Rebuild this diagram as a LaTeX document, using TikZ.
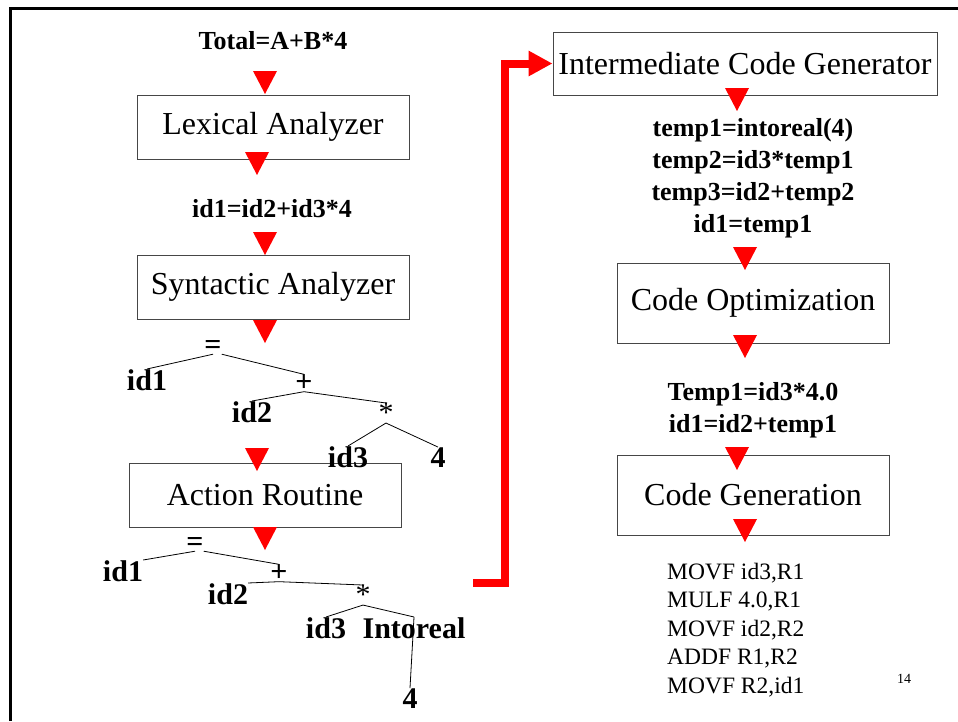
\documentclass[tikz,border=0pt]{standalone}
\usepackage{fontspec}
\setmainfont{Liberation Serif}
\definecolor{arrowRed}{RGB}{255, 0, 0}
\definecolor{boxGray}{RGB}{70, 70, 70}
\usepackage{tikz}
\usetikzlibrary{arrows.meta, calc}

\begin{document}
\begin{tikzpicture}[
    x=1pt, y=-1pt,
    stagebox/.style={rectangle, draw=boxGray, line width=1pt, minimum width=272pt,
                     minimum height=64pt, inner sep=0pt,
                     font=\fontsize{32}{38}\selectfont},
    codetext/.style={inner sep=0pt, anchor=base, align=center,
                     font=\fontsize{26}{32}\selectfont\bfseries},
    asmtext/.style={inner sep=0pt, anchor=base west, align=left,
                    font=\fontsize{23.5}{28.5}\selectfont},
    leaf/.style={inner sep=0pt, anchor=base, font=\fontsize{30}{36}\selectfont\bfseries},
    oper/.style={inner sep=0pt, font=\fontsize{30}{36}\selectfont\bfseries},
    starop/.style={inner sep=0pt, anchor=north, font=\fontsize{30}{36}\selectfont},
    treeline/.style={line width=0.8pt},
    redarrow/.style={line width=8pt, arrowRed, -{Triangle[length=24pt, width=24pt]}},
    redtri/.pic={\fill[arrowRed] (-12,0) -- (12,0) -- (0,23) -- cycle;},
  ]
    \useasboundingbox (0,0) rectangle (958,721);
    \draw[line width=3pt] (10,721) -- (10,8) -- (958,8);

    % left column
    \node[codetext] (src) at (273,49) {Total=A+B*4};
    \node[stagebox] (lex) at (273,127) {Lexical Analyzer};
    \node[codetext] (tokens) at (272,217) {id1=id2+id3*4};
    \node[stagebox] (syn) at (273,287) {Syntactic Analyzer};
    \node[stagebox] (act) at (265,495) {Action Routine};

    % syntax tree
    \node[oper] (eqA) at (213,347) {=};
    \node[leaf] (idA1) at (147,390) {id1};
    \node[oper] (plusA) at (304,383) {+};
    \node[leaf] (idA2) at (252,422) {id2};
    \node[starop] (starA) at (386,403) {*};
    \node[leaf] (idA3) at (348,467) {id3};
    \node[leaf] (fourA) at (438,467) {4};
    \draw[treeline] (eqA.south) -- (idA1.north);
    \draw[treeline] (eqA.south east) -- (plusA.north);
    \draw[treeline] (plusA.south) -- (idA2.north);
    \draw[treeline] (plusA.south) -- (starA.north);
    \draw[treeline] (starA.south) -- (idA3.north);
    \draw[treeline] (starA.south) -- (fourA.north);

    % annotated tree
    \node[oper] (eqB) at (195,544) {=};
    \node[leaf] (idB1) at (123,581) {id1};
    \node[oper] (plusB) at (279,573) {+};
    \node[leaf] (idB2) at (228,604) {id2};
    \node[starop] (starB) at (363,585) {*};
    \node[leaf] (idB3) at (326,638) {id3};
    \node[leaf] (intoB) at (414,638) {Intoreal};
    \node[leaf] (fourB) at (410,708) {4};
    \draw[treeline] (eqB.south) -- (idB1.north east);
    \draw[treeline] (eqB.south east) -- (plusB.north);
    \draw[treeline] (plusB.south) -- (idB2.north east);
    \draw[treeline] (plusB.south) -- (starB.north);
    \draw[treeline] (starB.south) -- (idB3.north);
    \draw[treeline] (starB.south) -- (intoB.north);
    \draw[treeline] (intoB.north) -- (fourB.north);

    % right column
    \node[stagebox, minimum width=384pt, minimum height=63pt] (icg) at (745,63.5)
         {Intermediate Code Generator};
    \node[codetext] (threeaddr) at (753,232)
         {temp1=intoreal(4)\\temp2=id3*temp1\\temp3=id2+temp2\\id1=temp1};
    \node[stagebox, minimum height=80pt] (opt) at (753,303) {Code Optimization};
    \node[codetext] (optcode) at (753,432) {Temp1=id3*4.0\\id1=id2+temp1};
    \node[stagebox, minimum height=80pt] (gen) at (753,495) {Code Generation};
    \node[asmtext] (asm) at (667,693)
         {MOVF id3,R1\\MULF 4.0,R1\\MOVF id2,R2\\ADDF R1,R2\\MOVF R2,id1};
    \node[inner sep=0pt, anchor=base, font=\fontsize{14}{16}\selectfont] (pnum)
         at (904,683) {14};

    % jump to the back end
    \coordinate (jump) at (473,583);
    \draw[redarrow] (jump) -| ($(icg.west)+(-48,0)$) -- (icg.west);

    % flow markers
    \pic at (265,71) {redtri};
    \pic at (257,152) {redtri};
    \pic at (265,232) {redtri};
    \pic at (265,320) {redtri};
    \pic at (257,448) {redtri};
    \pic at (265,527) {redtri};
    \pic at (737,88) {redtri};
    \pic at (745,247) {redtri};
    \pic at (745,335) {redtri};
    \pic at (737,447) {redtri};
    \pic at (745,519) {redtri};
  \end{tikzpicture}
\end{document}
